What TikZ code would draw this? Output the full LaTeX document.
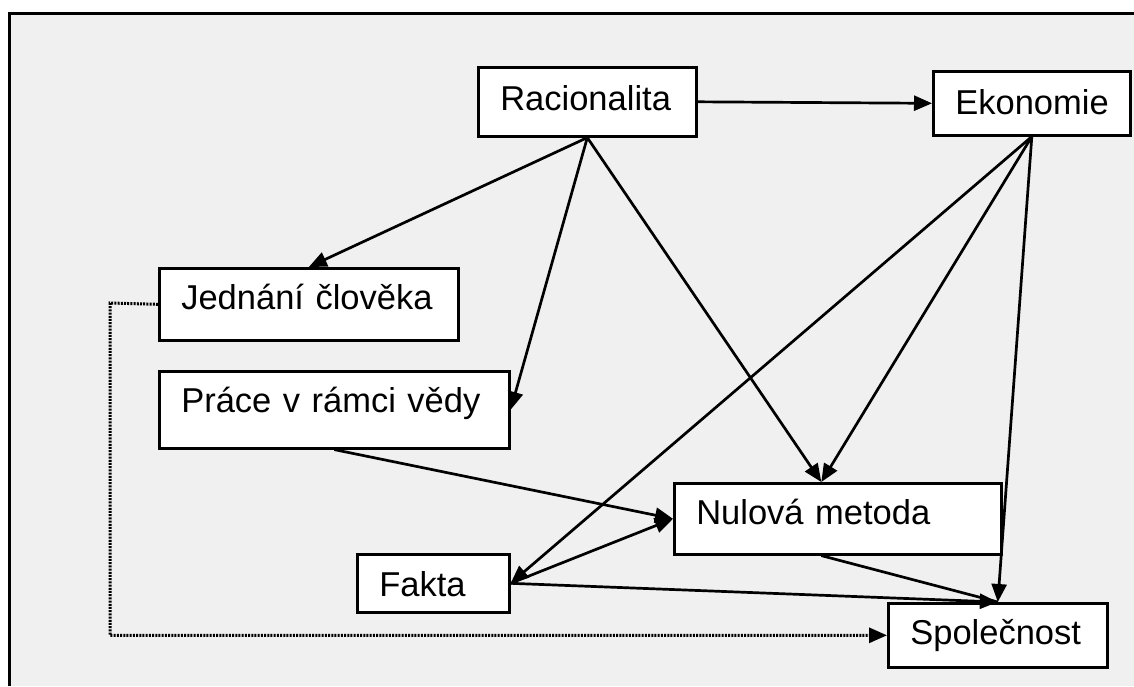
\documentclass[tikz,border=0pt]{standalone}
\usepackage{fontspec}
\setmainfont{Liberation Sans}
\usetikzlibrary{arrows.meta,calc}
\definecolor{panel}{HTML}{F0F0F0}
\begin{document}
\begin{tikzpicture}[x=1pt,y=-1pt,
  conceptbox/.style={draw=black, line width=2.6pt, fill=white, anchor=north west,
    inner xsep=22pt, inner ysep=0pt, align=left,
    font=\fontsize{34.5}{40}\selectfont},
  link/.style={line width=2.7pt, -{Triangle[length=18pt,width=15pt]}},
  dotlink/.style={line width=3pt, dash pattern=on 2pt off 1.2pt,
    -{Triangle[length=18pt,width=15pt]}}]
\useasboundingbox (0,0) rectangle (1134,686);
% panel background with its top and left border
\fill[panel] (9,13) rectangle (1134,686);
\draw[line width=3pt] (9,686) -- (9,13) -- (1134,13);

% concept boxes: width = text width + 44, height = text height + text depth
\node[conceptbox, text width=174pt, text height=43pt, text depth=26pt] (R) at (477,66) {Racionalita};
\node[conceptbox, text width=153pt, text height=43pt, text depth=21pt] (E) at (932,70) {Ekonomie};
\node[conceptbox, text width=255pt, text height=41pt, text depth=31pt] (J) at (158,267) {Jednání člověka};
\node[conceptbox, text width=306pt, text height=41pt, text depth=36pt] (P) at (158,370) {Práce v rámci vědy};
\node[conceptbox, text width=283pt, text height=41pt, text depth=30pt] (N) at (673,482) {Nulová metoda};
\node[conceptbox, text width=108pt, text height=42pt, text depth=16pt] (F) at (356,553) {Fakta};
\node[conceptbox, text width=175pt, text height=41pt, text depth=23pt] (S) at (887,602) {Společnost};

\coordinate (Ntop) at ($(N.north west)!0.45!(N.north east)$);
\coordinate (Nbot) at ($(N.south west)!0.45!(N.south east)$);

% connectors
\draw[link] (R.east) -- (E.west);
\draw[link] (R.south) -- (J.north);
\draw[link] (R.south) -- (P.east);
\draw[link] (R.south) -- (Ntop);
\draw[link] (E.south) -- (Ntop);
\draw[link] (E.south) -- (F.east);
\draw[link] (E.south) -- (S.north);
\draw[link] (P.south) -- (N.west);
\draw[link] (F.east) -- (N.west);
\draw[link] (F.east) -- (S.north);
\draw[line width=2.7pt] (Nbot) -- (S.north);
\draw[dotlink] (J.west) -- (110,303) |- (S.west);
\end{tikzpicture}
\end{document}
